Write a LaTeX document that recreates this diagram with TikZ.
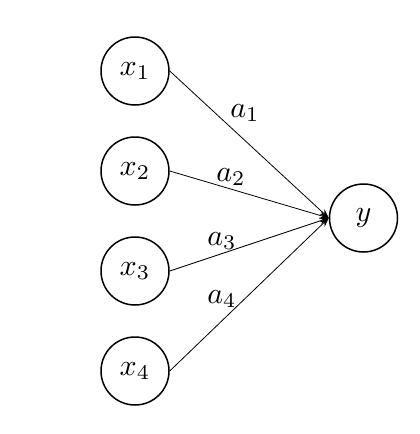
\documentclass[tikz,border=0pt]{standalone}
\usepackage{graphicx}
\usetikzlibrary{arrows.meta}
\newcommand{\nlabel}[1]{\scalebox{3.0}{$#1$}}
\begin{document}
\begin{tikzpicture}[x=1pt,y=-1pt,
  neuron/.style={circle,draw,line width=1.5pt,minimum size=68pt,inner sep=0pt},
  conn/.style={line width=0.8pt,-{Stealth[length=9pt,width=7pt]}},
  wlabel/.style={inner sep=0pt}]
\useasboundingbox (0,0) rectangle (420,434);
\node[neuron] (x1) at (135,71) {\nlabel{x_1}};
\node[neuron] (x2) at (135,171) {\nlabel{x_2}};
\node[neuron] (x3) at (135,271) {\nlabel{x_3}};
\node[neuron] (x4) at (135,371) {\nlabel{x_4}};
\node[neuron] (y) at (363.5,218) {\nlabel{y}};
\draw[conn] (x1.east) -- (y.west);
\draw[conn] (x2.east) -- (y.west);
\draw[conn] (x3.east) -- (y.west);
\draw[conn] (x4.east) -- (y.west);
\node[wlabel] (a1) at (245,113) {\nlabel{a_1}};
\node[wlabel] (a2) at (231,177) {\nlabel{a_2}};
\node[wlabel] (a3) at (222,241) {\nlabel{a_3}};
\node[wlabel] (a4) at (222,299) {\nlabel{a_4}};
\end{tikzpicture}
\end{document}
